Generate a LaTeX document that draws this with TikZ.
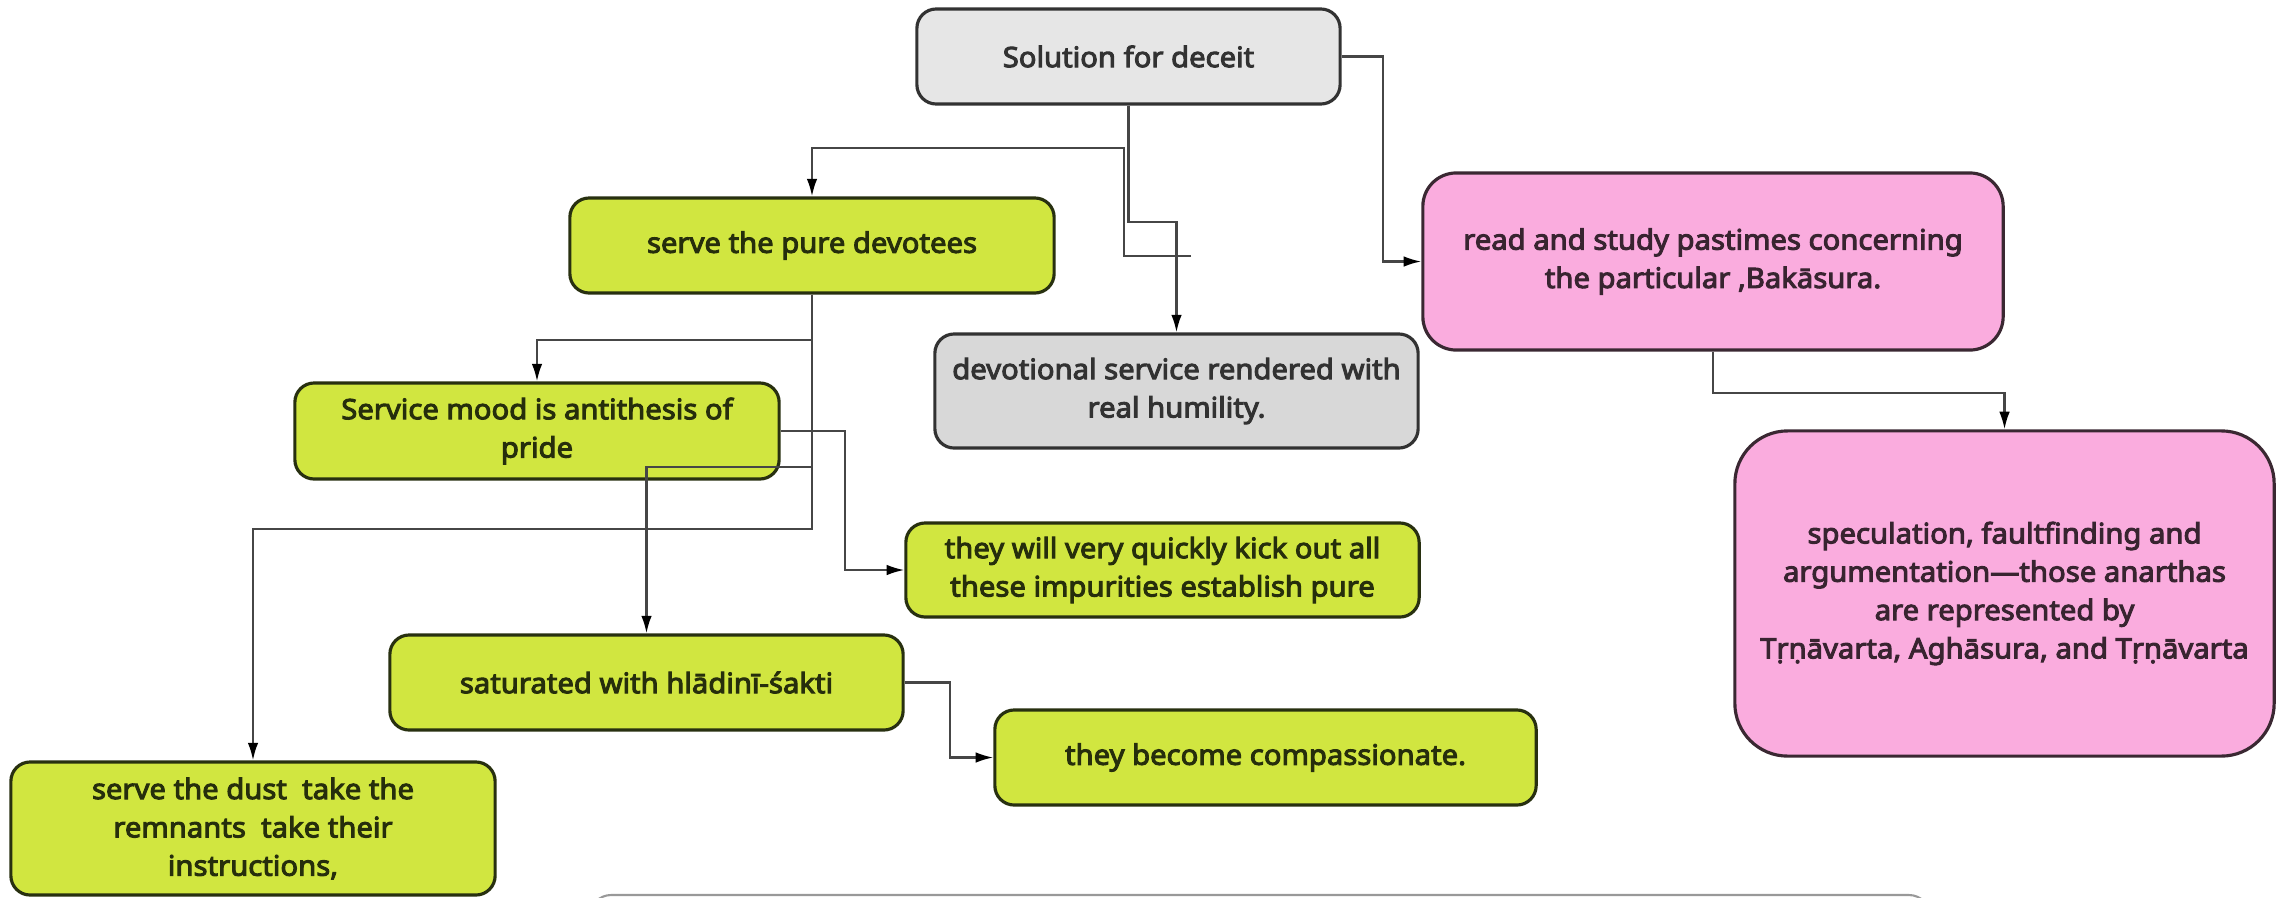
\documentclass[tikz,border=0pt]{standalone}
\usepackage{fontspec}
\setmainfont{Noto Sans}[BoldFont={Noto Sans}, BoldFeatures={FakeBold=3.5, FakeStretch=1.04}]
\usetikzlibrary{arrows.meta}

\definecolor{boxgreen}{RGB}{209,230,64}
\definecolor{greenline}{RGB}{40,48,16}
\definecolor{greentext}{RGB}{38,46,12}
\definecolor{boxpink}{RGB}{250,172,222}
\definecolor{pinkline}{RGB}{58,40,50}
\definecolor{pinktext}{RGB}{56,36,48}
\definecolor{lightgray}{RGB}{230,230,230}
\definecolor{midgray}{RGB}{216,216,216}
\definecolor{grayline}{RGB}{50,50,50}
\definecolor{linegray}{RGB}{70,70,70}

\tikzset{
  box/.style={draw, rounded corners=5.5pt, line width=0.9pt, align=center,
    inner sep=0pt, font=\bfseries\fontsize{8}{10.9}\selectfont},
  greenbox/.style={box, fill=boxgreen, draw=greenline, text=greentext},
  graybox/.style={box, draw=grayline, text=grayline},
  pinkbox/.style={box, fill=boxpink, draw=pinkline, text=pinktext},
  conn/.style={draw=linegray, line width=0.6pt, -{Latex[length=5pt,width=3pt,color=black]}}
}

\begin{document}
\begin{tikzpicture}[x=0.01cm, y=-0.01cm]
    \useasboundingbox (0,0) rectangle (2285,897);

    % top node
    \node[graybox, fill=lightgray, minimum width=4.23cm, minimum height=0.95cm] (sol) at (1128.5,56.5) {Solution for deceit};

    % left branch - green
    \node[greenbox, minimum width=4.84cm, minimum height=0.95cm] (pure) at (812,245.5) {serve the pure devotees};
    \node[greenbox, minimum width=4.84cm, minimum height=0.96cm] (mood) at (537,431) {Service mood is antithesis of\\pride};
    \node[greenbox, minimum width=5.13cm, minimum height=0.94cm] (quick) at (1162.5,570) {they will very quickly kick out all\\these impurities establish pure};
    \node[greenbox, minimum width=5.13cm, minimum height=0.95cm] (sat) at (646.5,682.5) {saturated with hlādinī-śakti};
    \node[greenbox, minimum width=5.41cm, minimum height=0.95cm] (comp) at (1265.5,757.5) {they become compassionate.};
    \node[greenbox, minimum width=4.84cm, minimum height=1.33cm] (dust) at (253,828.5) {serve the dust\ \ take the\\remnants\ \ take their\\instructions,};

    % middle - gray
    \node[graybox, fill=midgray, minimum width=4.83cm, minimum height=1.14cm] (devot) at (1176.5,391) {devotional service rendered with\\real humility.};

    % right branch - pink
    \node[pinkbox, rounded corners=9.5pt, minimum width=5.8cm, minimum height=1.77cm] (read) at (1713,261.5) {read and study pastimes concerning\\the particular ,Bakāsura.};
    \node[pinkbox, rounded corners=15pt, minimum width=5.39cm, minimum height=3.25cm] (spec) at (2004.5,593.5) {speculation, faultfinding and\\argumentation—those anarthas\\are represented by\\Tṛṇāvarta, Aghāsura, and Tṛṇāvarta};

    % box cut off at the bottom edge
    \draw[draw=gray!80, line width=0.6pt, rounded corners=6pt, fill=white] (590,895) rectangle (1930,990);

    % connectors
    \coordinate (stub) at (1191,256);
    \draw[conn] (sol.east) -- ++(41,0) |- (read.west);
    \draw[conn] (sol.south) -- ++(0,116) -| (devot.north);
    \draw[conn] (stub) -- ++(-67,0) -- ++(0,-108) -| (pure.north);
    \draw[conn] (pure.south) -- ++(0,45) -| (mood.north);
    \draw[conn] (pure.south) -- ++(0,172) -| (sat.north);
    \draw[conn] (pure.south) -- ++(0,234) -| (dust.north);
    \draw[conn] (mood.east) -- ++(64,0) |- (quick.west);
    \draw[conn] (sat.east) -- ++(45,0) |- (comp.west);
    \draw[conn] (read.south) -- ++(0,41) -| (spec.north);
\end{tikzpicture}
\end{document}
